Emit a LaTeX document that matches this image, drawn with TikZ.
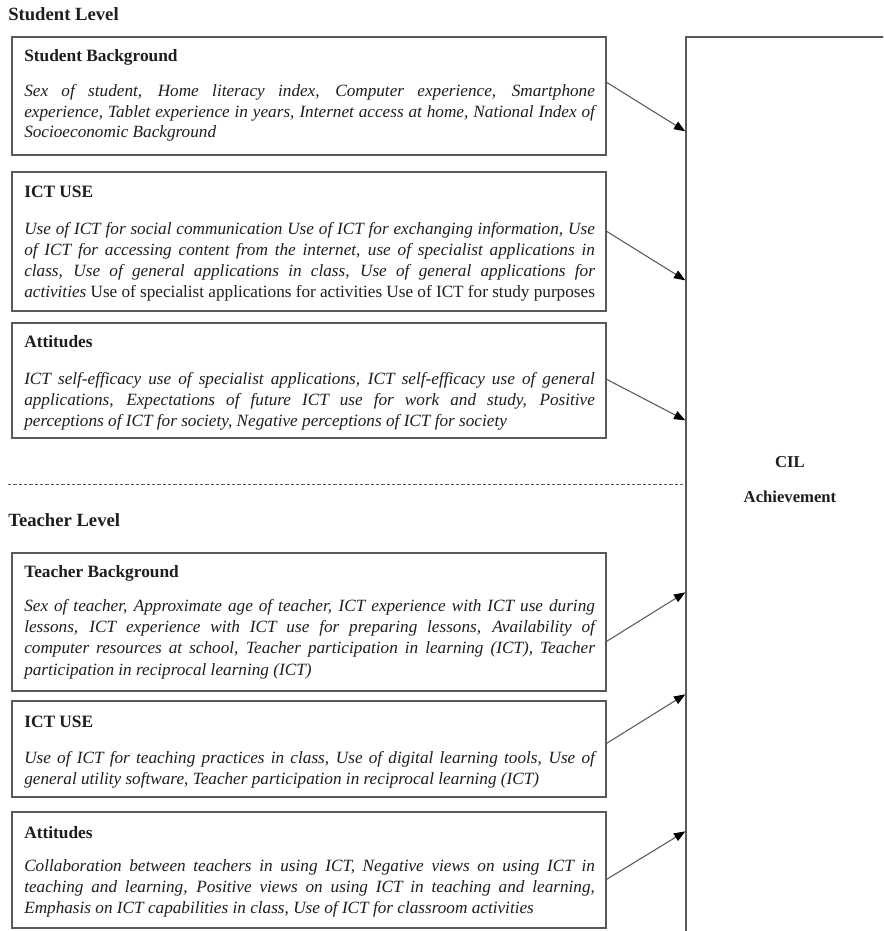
\documentclass[tikz,border=0pt]{standalone}
\usepackage{fontspec}
\setmainfont{Liberation Serif}
\usetikzlibrary{arrows.meta,fit,calc}
\definecolor{linegray}{HTML}{5A5A5A}
\definecolor{txt}{HTML}{1E1E1E}
\tikzset{
  boxframe/.style={draw=linegray, line width=1pt, inner sep=0pt, fit={#1}},
  levellabel/.style={anchor=base west, inner sep=0pt, text=txt, font=\fontsize{14}{16}\selectfont\bfseries},
  boxtitle/.style={anchor=base west, inner sep=0pt, text=txt, font=\fontsize{13}{15}\selectfont\bfseries},
  boxbody/.style={anchor=base west, inner sep=0pt, text=txt, text width=428pt, align=justify,
    font=\fontsize{12.9}{#1}\selectfont\itshape},
  ciltext/.style={anchor=base, inner sep=0pt, text=txt, font=\fontsize{12.5}{15}\selectfont\bfseries},
  arr/.style={draw=linegray, line width=0.8pt, -{Triangle[length=8.5pt,width=6.5pt,fill=black,color=black]}},
  divider/.style={draw=linegray, line width=0.6pt, dash pattern=on 2.5pt off 1.5pt},
}
\begin{document}
\begin{tikzpicture}[x=0.75pt,y=-0.75pt]
\useasboundingbox (0,0) rectangle (883,931);
\clip (0,0) rectangle (883,931);
\fill[white] (0,0) rectangle (883,931);

% Level labels
\node[levellabel] (slev) at (8,21) {Student Level};
\node[levellabel] (tlev) at (8,526) {Teacher Level};

% divider
\coordinate (dl) at (8,484);
\coordinate (dr) at (686,484);
\draw[divider] (dl) -- (dr);

% CIL box
\node[boxframe={(686,37)(940,990)}] (cil) {};
\node[ciltext] (cil1) at (790,467) {CIL};
\node[ciltext] (cil2) at (790,502) {Achievement};

% Student Background
\node[boxframe={(12,37)(606,155)}] (sb) {};
\node[boxtitle] (sbh) at (24,61) {Student Background};
\node[boxbody=15.75pt] (sbb) at (24,96) {Sex of student, Home literacy index, Computer experience, Smartphone\linebreak experience, Tablet experience in years, Internet access at home, National Index of\linebreak Socioeconomic Background};

% Student ICT use
\node[boxframe={(12,172)(606,311)}] (su) {};
\node[boxtitle] (suh) at (24,197) {ICT USE};
\node[boxbody=15.75pt] (sub) at (24,234) {\parfillskip=0pt Use of ICT for social communication Use of ICT for exchanging information, Use\linebreak of ICT for accessing content from the internet, use of specialist applications in\linebreak class, Use of general applications in class, Use of general applications for\linebreak activities \upshape Use of specialist applications for activities Use of ICT for study purposes};

% Student Attitudes
\node[boxframe={(12,323)(606,438)}] (sa) {};
\node[boxtitle] (sah) at (24,347) {Attitudes};
\node[boxbody=15.75pt] (sab) at (24,384) {ICT self-efficacy use of specialist applications, ICT self-efficacy use of general\linebreak applications, Expectations of future ICT use for work and study, Positive\linebreak perceptions of ICT for society, Negative perceptions of ICT for society};

% Teacher Background
\node[boxframe={(12,553)(606,691)}] (tb) {};
\node[boxtitle] (tbh) at (24,577) {Teacher Background};
\node[boxbody=16pt] (tbb) at (24,611) {Sex of teacher, Approximate age of teacher, ICT experience with ICT use during\linebreak lessons, ICT experience with ICT use for preparing lessons, Availability of\linebreak computer resources at school, Teacher participation in learning (ICT), Teacher\linebreak participation in reciprocal learning (ICT)};

% Teacher ICT use
\node[boxframe={(12,701)(606,797)}] (tu) {};
\node[boxtitle] (tuh) at (24,727) {ICT USE};
\node[boxbody=16pt] (tub) at (24,763) {Use of ICT for teaching practices in class, Use of digital learning tools, Use of\linebreak general utility software, Teacher participation in reciprocal learning (ICT)};

% Teacher Attitudes
\node[boxframe={(12,812)(606,928)}] (ta) {};
\node[boxtitle] (tah) at (24,838) {Attitudes};
\node[boxbody=16pt] (tab) at (24,871) {Collaboration between teachers in using ICT, Negative views on using ICT in\linebreak teaching and learning, Positive views on using ICT in teaching and learning,\linebreak Emphasis on ICT capabilities in class, Use of ICT for classroom activities};

% Arrows
\draw[arr] ($(sb.north east)+(0,46)$) -- ($(cil.north west)+(0,95)$);
\draw[arr] ($(su.north east)+(0,60)$) -- ($(cil.north west)+(0,244)$);
\draw[arr] ($(sa.north east)+(0,57)$) -- ($(cil.north west)+(0,384)$);
\draw[arr] ($(tb.north east)+(0,89)$) -- ($(cil.north west)+(0,556)$);
\draw[arr] ($(tu.north east)+(0,43)$) -- ($(cil.north west)+(0,658)$);
\draw[arr] ($(ta.north east)+(0,68)$) -- ($(cil.north west)+(0,795)$);
\end{tikzpicture}
\end{document}
